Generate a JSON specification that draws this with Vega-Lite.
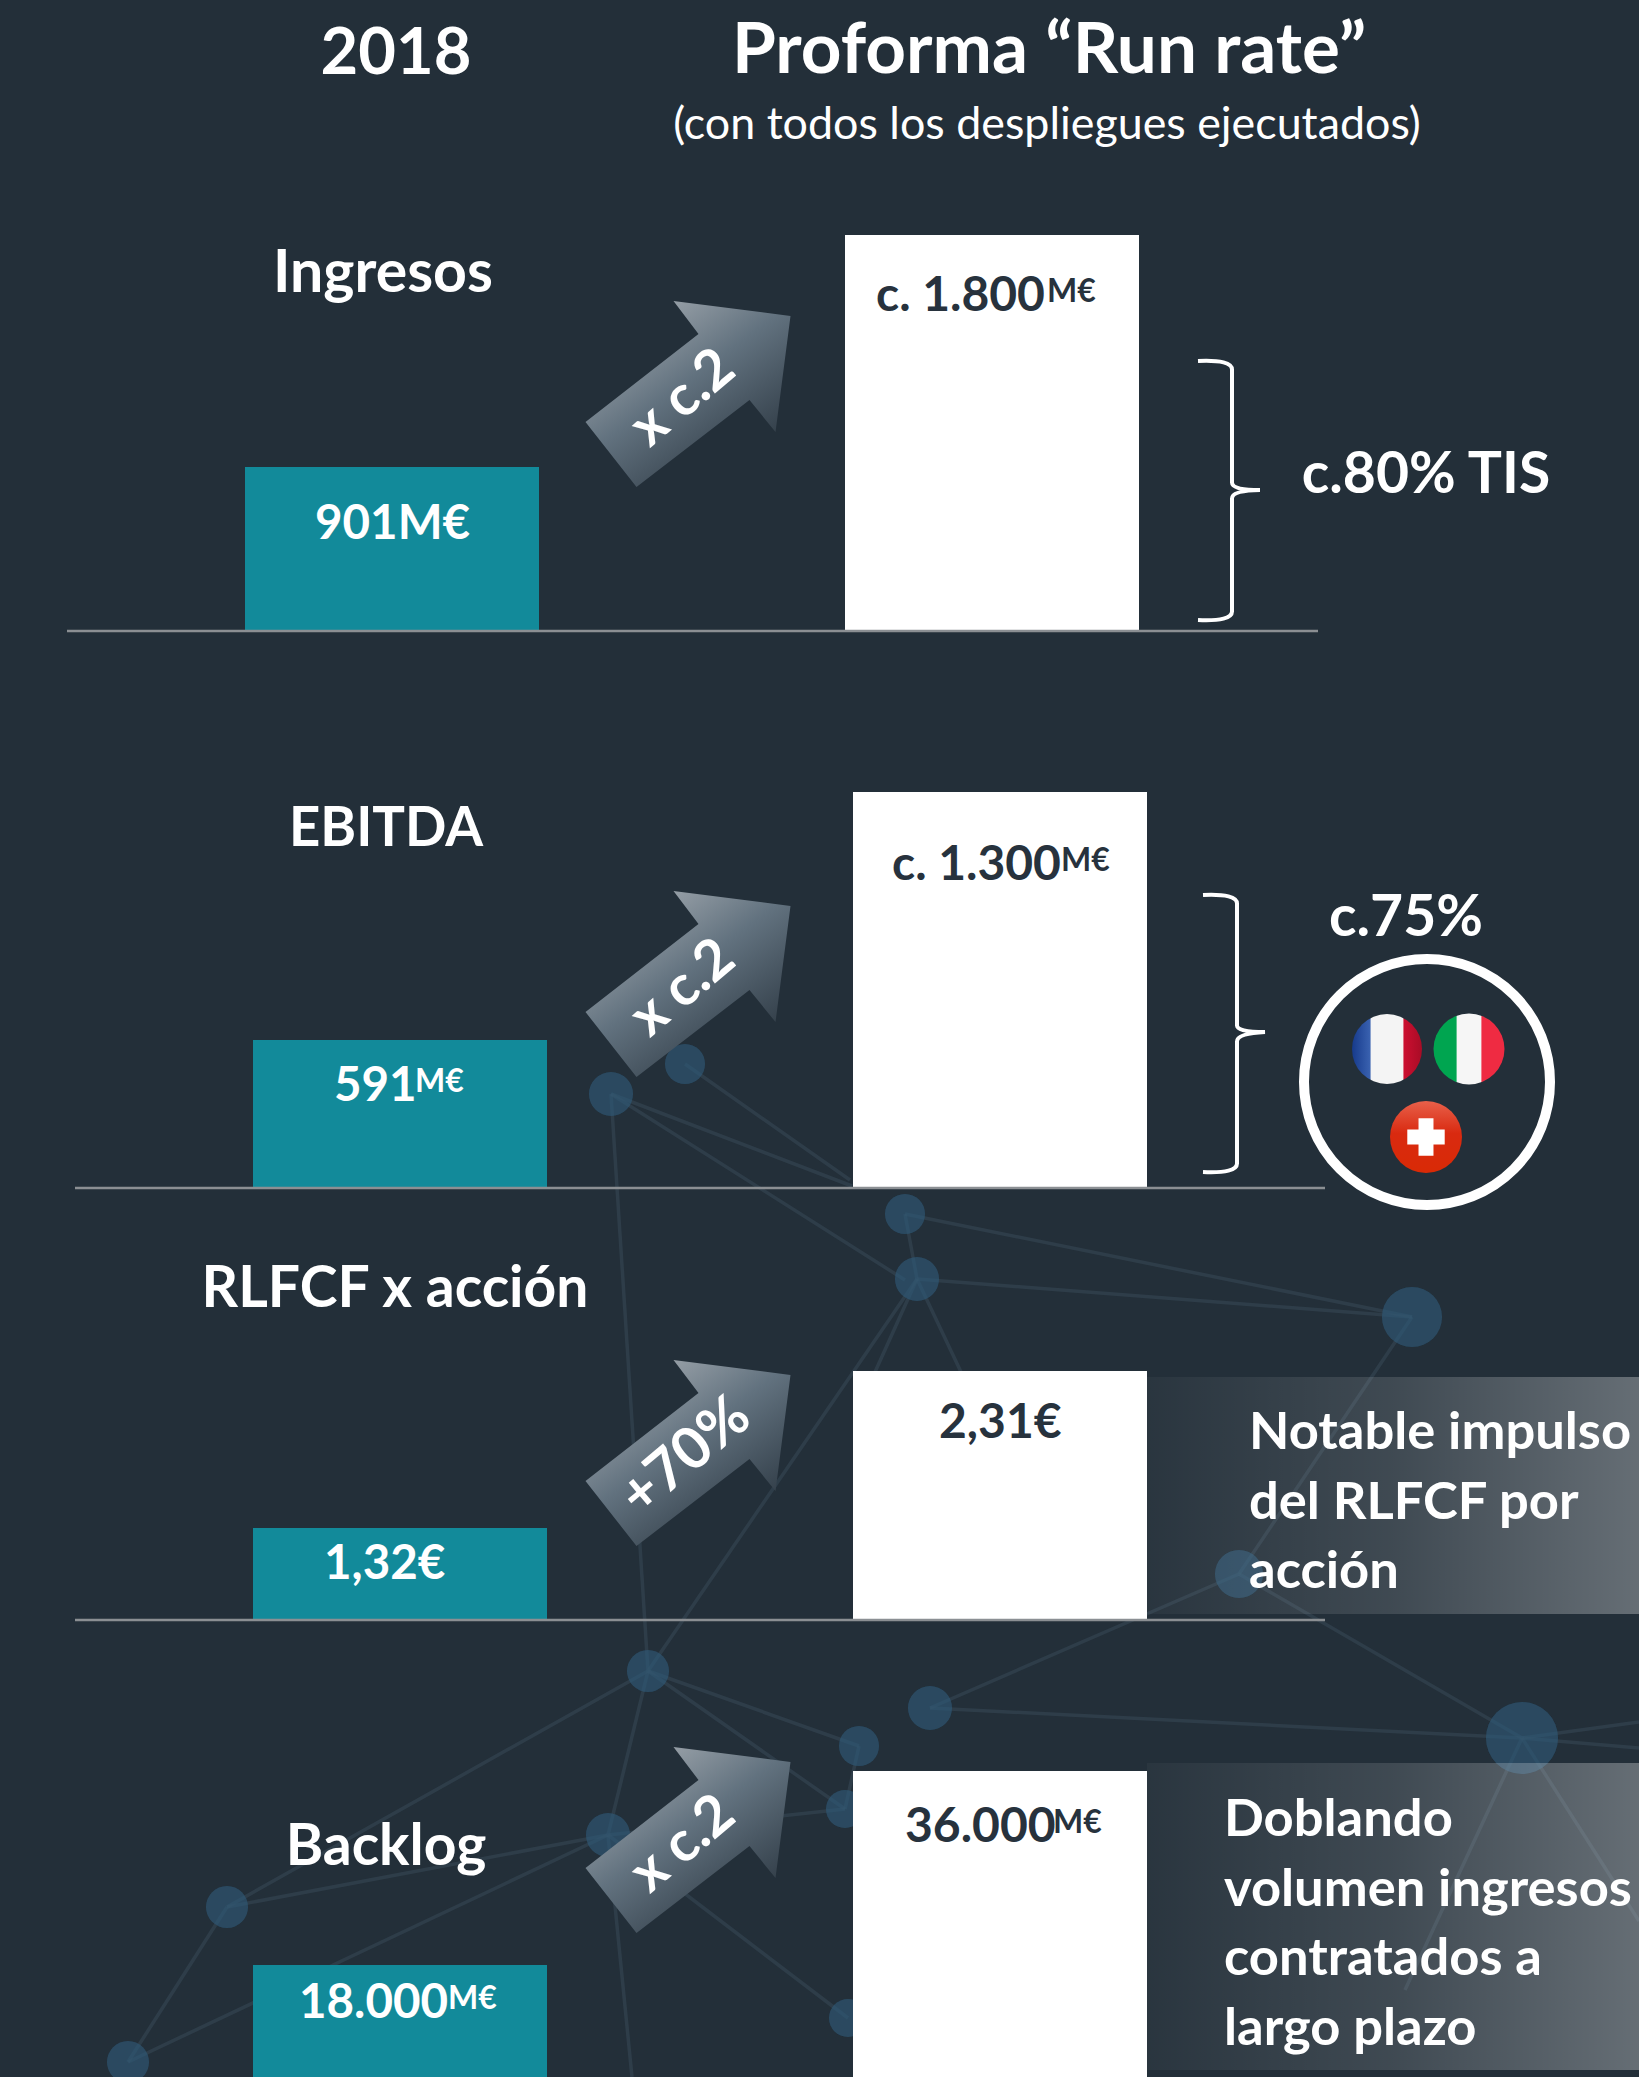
{
"$schema":"https://vega.github.io/schema/vega-lite/v6.json",
"width":1639,"height":2077,"padding":0,"autosize":{"type":"none"},
"background":"#232f39",
"config":{"view":{"stroke":null},"text":{"font":"Lato","fontWeight":"bold","baseline":"middle","align":"center","color":"#ffffff"}},
"datasets":{
"bars":[
{"metric":"Ingresos","period":"2018","value":901},{"metric":"Ingresos","period":"Proforma","value":1800},
{"metric":"EBITDA","period":"2018","value":591},{"metric":"EBITDA","period":"Proforma","value":1300},
{"metric":"RLFCF x acción","period":"2018","value":1.32},{"metric":"RLFCF x acción","period":"Proforma","value":2.31},
{"metric":"Backlog","period":"2018","value":18000},{"metric":"Backlog","period":"Proforma","value":36000}],
"edges":[
{"x":611,"y":1094,"x2":852,"y2":1186},{"x":611,"y":1094,"x2":905,"y2":1280},{"x":685,"y":1064,"x2":850,"y2":1180},{"x":611,"y":1094,"x2":648,"y2":1671},
{"x":905,"y":1214,"x2":1412,"y2":1317},{"x":917,"y":1279,"x2":1412,"y2":1317},{"x":917,"y":1279,"x2":648,"y2":1671},
{"x":905,"y":1214,"x2":917,"y2":1279},{"x":917,"y":1279,"x2":875,"y2":1372},{"x":917,"y":1279,"x2":961,"y2":1372},
{"x":1239,"y":1574,"x2":930,"y2":1708},{"x":1239,"y":1574,"x2":1522,"y2":1738},{"x":930,"y":1708,"x2":1522,"y2":1738},
{"x":648,"y":1671,"x2":859,"y2":1746},{"x":648,"y":1671,"x2":608,"y2":1835},{"x":648,"y":1671,"x2":227,"y2":1907},
{"x":227,"y":1907,"x2":608,"y2":1835},{"x":227,"y":1907,"x2":128,"y2":2062},{"x":128,"y":2062,"x2":608,"y2":1835},
{"x":608,"y":1835,"x2":848,"y2":2018},{"x":859,"y":1746,"x2":845,"y2":1809},{"x":648,"y":1671,"x2":845,"y2":1809},
{"x":845,"y":1809,"x2":608,"y2":1835},{"x":608,"y":1835,"x2":632,"y2":2077},{"x":1522,"y":1738,"x2":1639,"y2":1722},{"x":1522,"y":1738,"x2":1639,"y2":1748},
{"x":1522,"y":1738,"x2":1405,"y2":1990},{"x":1522,"y":1738,"x2":1639,"y2":1921},{"x":1412,"y":1317,"x2":1239,"y2":1574}],
"nodes":[
{"x":611,"y":1094,"w":22},{"x":685,"y":1064,"w":20},{"x":905,"y":1214,"w":20},{"x":917,"y":1279,"w":22},{"x":1412,"y":1317,"w":30},
{"x":1239,"y":1574,"w":24},{"x":648,"y":1671,"w":21},{"x":930,"y":1708,"w":22},{"x":859,"y":1746,"w":20},{"x":1522,"y":1738,"w":36},
{"x":845,"y":1809,"w":19},{"x":608,"y":1835,"w":22},{"x":227,"y":1907,"w":21},{"x":128,"y":2062,"w":21},{"x":848,"y":2018,"w":19}],
"boxes":[{"x":1147,"x2":1639,"y":1377,"y2":1614},{"x":1147,"x2":1639,"y":1763,"y2":2070}],
"arrows":[{"x":688,"y":394},{"x":688,"y":984},{"x":688,"y":1453},{"x":688,"y":1840}],
"baselines":[{"x":67,"x2":1318,"y":631},{"x":75,"x2":1325,"y":1188},{"x":75,"x2":1325,"y":1620}]
},
"resolve":{"scale":{"x":"independent","y":"independent"}},
"layer":[
{"encoding":{
 "x":{"field":"x","type":"quantitative","scale":{"domain":[0,1639],"range":[0,1639]},"axis":null},
 "y":{"field":"y","type":"quantitative","scale":{"domain":[0,2077],"range":[0,2077]},"axis":null}},
 "layer":[
 {"data":{"name":"edges"},"mark":{"type":"rule","stroke":"#3a4b59","strokeWidth":3.5,"opacity":0.5},"encoding":{"x2":{"field":"x2"},"y2":{"field":"y2"}}},
 {"data":{"name":"nodes"},"mark":{"type":"point","shape":"circle","filled":true,"fill":"#2a5775","opacity":0.2},"encoding":{"size":{"field":"w","type":"quantitative","scale":{"type":"pow","exponent":2,"domain":[0,36],"range":[0,5200]},"legend":null}}},
 {"data":{"name":"nodes"},"mark":{"type":"point","shape":"circle","filled":true,"fill":"#2d5a7c","opacity":0.3},"encoding":{"size":{"field":"w","type":"quantitative","scale":{"type":"pow","exponent":2,"domain":[0,36],"range":[0,3400]},"legend":null}}},
 {"data":{"name":"nodes"},"mark":{"type":"point","shape":"circle","filled":true,"fill":"#34607f","opacity":0.3},"encoding":{"size":{"field":"w","type":"quantitative","scale":{"type":"pow","exponent":2,"domain":[0,36],"range":[0,1800]},"legend":null}}},
 {"data":{"name":"boxes"},"mark":{"type":"rect","fill":{"gradient":"linear","x1":0,"y1":0,"x2":1,"y2":0,"stops":[{"offset":0,"color":"rgba(255,255,255,0.03)"},{"offset":0.5,"color":"rgba(255,255,255,0.13)"},{"offset":1,"color":"rgba(255,255,255,0.3)"}]}},"encoding":{"x2":{"field":"x2"},"y2":{"field":"y2"}}},
 {"data":{"name":"arrows"},"mark":{"type":"point","filled":true,"opacity":1,"size":40000,"shape":"M-0.145 -0.93L1.025 -0.78L0.875 0.38L0.615 0.06L-0.515 0.93L-1.025 0.28L0.105 -0.60Z","fill":{"gradient":"linear","x1":0,"y1":0,"x2":0.8,"y2":1,"stops":[{"offset":0,"color":"#b9bdc1"},{"offset":0.5,"color":"#62727f"},{"offset":1,"color":"#27323c"}]}}}
 ]},
{"data":{"name":"bars"},"transform":[{"filter":"datum.metric==='Ingresos'"}],"mark":{"type":"bar","width":294},"encoding":{
 "x":{"field":"period","type":"nominal","scale":{"type":"point","padding":0,"domain":["2018","Proforma"],"range":[392,992]},"axis":null},
 "y":{"field":"value","type":"quantitative","stack":null,"scale":{"zero":false,"nice":false,"domain":[269.4,1800],"range":[630,235]},"axis":null},
 "y2":{"datum":269.4},
 "color":{"field":"period","scale":{"domain":["2018","Proforma"],"range":["#128a9a","#ffffff"]},"legend":null}}},
{"data":{"name":"bars"},"transform":[{"filter":"datum.metric==='EBITDA'"}],"mark":{"type":"bar","width":294},"encoding":{
 "x":{"field":"period","type":"nominal","scale":{"type":"point","padding":0,"domain":["2018","Proforma"],"range":[400,1000]},"axis":null},
 "y":{"field":"value","type":"quantitative","stack":null,"scale":{"zero":false,"nice":false,"domain":[171,1300],"range":[1187,792]},"axis":null},
 "y2":{"datum":171},
 "color":{"field":"period","scale":{"domain":["2018","Proforma"],"range":["#128a9a","#ffffff"]},"legend":null}}},
{"data":{"name":"bars"},"transform":[{"filter":"datum.metric==='RLFCF x acción'"}],"mark":{"type":"bar","width":294},"encoding":{
 "x":{"field":"period","type":"nominal","scale":{"type":"point","padding":0,"domain":["2018","Proforma"],"range":[400,1000]},"axis":null},
 "y":{"field":"value","type":"quantitative","stack":null,"scale":{"zero":false,"nice":false,"domain":[0.746,2.31],"range":[1619,1371]},"axis":null},
 "y2":{"datum":0.746},
 "color":{"field":"period","scale":{"domain":["2018","Proforma"],"range":["#128a9a","#ffffff"]},"legend":null}}},
{"data":{"name":"bars"},"transform":[{"filter":"datum.metric==='Backlog'"}],"mark":{"type":"bar","width":294},"encoding":{
 "x":{"field":"period","type":"nominal","scale":{"type":"point","padding":0,"domain":["2018","Proforma"],"range":[400,1000]},"axis":null},
 "y":{"field":"value","type":"quantitative","stack":null,"scale":{"zero":false,"nice":false,"domain":[7608,36000],"range":[2077,1771]},"axis":null},
 "y2":{"datum":7608},
 "color":{"field":"period","scale":{"domain":["2018","Proforma"],"range":["#128a9a","#ffffff"]},"legend":null}}},
{"encoding":{
 "x":{"field":"x","type":"quantitative","scale":{"domain":[0,1639],"range":[0,1639]},"axis":null},
 "y":{"field":"y","type":"quantitative","scale":{"domain":[0,2077],"range":[0,2077]},"axis":null},
 "text":{"field":"t"}},
 "layer":[
 {"data":{"name":"baselines"},"mark":{"type":"rule","stroke":"#8b8f93","strokeWidth":2.5},"encoding":{"x2":{"field":"x2"},"text":{"value":""}}},
 {"data":{"values":[{"x":1229,"y":490.5}]},"mark":{"type":"point","filled":false,"opacity":1,"stroke":"#ffffff","strokeWidth":4,"size":40000,"shape":"M-0.31 -1.295Q0.03 -1.31 0.03 -1.21L0.03 -0.08Q0.03 -0.005 0.31 -0.005Q0.03 0 0.03 0.08L0.03 1.21Q0.03 1.31 -0.31 1.295"},"encoding":{"text":{"value":""}}},
 {"data":{"values":[{"x":1234,"y":1033.5}]},"mark":{"type":"point","filled":false,"opacity":1,"stroke":"#ffffff","strokeWidth":4,"size":40000,"shape":"M-0.31 -1.385Q0.03 -1.40 0.03 -1.30L0.03 -0.08Q0.03 -0.015 0.31 -0.015Q0.03 0 0.03 0.08L0.03 1.30Q0.03 1.40 -0.31 1.385"},"encoding":{"text":{"value":""}}},
 {"data":{"values":[{"x":1427,"y":1082}]},"mark":{"type":"point","shape":"circle","filled":false,"opacity":1,"stroke":"#ffffff","strokeWidth":10,"size":60516},"encoding":{"text":{"value":""}}},
 {"data":{"values":[{"x":1387,"y":1049}]},"mark":{"type":"point","shape":"circle","filled":true,"opacity":1,"size":4900,"fill":{"gradient":"linear","x1":0,"y1":0,"x2":1,"y2":0,"stops":[{"offset":0,"color":"#163a8c"},{"offset":0.26,"color":"#3a62b0"},{"offset":0.27,"color":"#f4f4f4"},{"offset":0.73,"color":"#f4f4f4"},{"offset":0.74,"color":"#cc0f30"},{"offset":1,"color":"#a80c26"}]}},"encoding":{"text":{"value":""}}},
 {"data":{"values":[{"x":1469,"y":1049}]},"mark":{"type":"point","shape":"circle","filled":true,"opacity":1,"size":5041,"fill":{"gradient":"linear","x1":0,"y1":0,"x2":1,"y2":0,"stops":[{"offset":0,"color":"#00a550"},{"offset":0.32,"color":"#00a550"},{"offset":0.33,"color":"#f6f6f6"},{"offset":0.67,"color":"#f6f6f6"},{"offset":0.68,"color":"#ef2b42"},{"offset":1,"color":"#ef2b42"}]}},"encoding":{"text":{"value":""}}},
 {"data":{"values":[{"x":1426,"y":1137}]},"mark":{"type":"point","shape":"circle","filled":true,"opacity":1,"size":5184,"fill":{"gradient":"linear","x1":0,"y1":0,"x2":0,"y2":1,"stops":[{"offset":0,"color":"#e8604a"},{"offset":0.45,"color":"#d92a10"},{"offset":1,"color":"#d92a06"}]}},"encoding":{"text":{"value":""}}},
 {"data":{"values":[{"x":1426,"y":1137}]},"mark":{"type":"point","shape":"cross","filled":true,"opacity":1,"fill":"#ffffff","size":1400},"encoding":{"text":{"value":""}}},
 {"data":{"values":[{"t":"2018","x":396,"y":54}]},"mark":{"type":"text","fontSize":65}},
 {"data":{"values":[{"t":"Proforma “Run rate”","x":1049,"y":52}]},"mark":{"type":"text","fontSize":71}},
 {"data":{"values":[{"t":"(con todos los despliegues ejecutados)","x":1047,"y":126}]},"mark":{"type":"text","fontSize":44.8,"fontWeight":"normal"}},
 {"data":{"values":[{"t":"Ingresos","x":383,"y":274}]},"mark":{"type":"text","fontSize":59}},
 {"data":{"values":[{"t":"RLFCF x acción","x":395,"y":1290},{"t":"Backlog","x":386,"y":1848},{"t":"c.80% TIS","x":1426,"y":476},{"t":"c.75%","x":1406,"y":919}]},"mark":{"type":"text","fontSize":57}},
 {"data":{"values":[{"t":"EBITDA","x":386,"y":830}]},"mark":{"type":"text","fontSize":54.5}},
 {"data":{"values":[{"t":"Notable impulso","x":1249,"y":1433},{"t":"del RLFCF por","x":1249,"y":1503},{"t":"acción","x":1249,"y":1572},{"t":"Doblando","x":1224,"y":1820},{"t":"volumen ingresos","x":1224,"y":1890},{"t":"contratados a","x":1224,"y":1959},{"t":"largo plazo","x":1224,"y":2029}]},"mark":{"type":"text","fontSize":52.5,"align":"left"}},
 {"data":{"values":[{"t":"901M€","x":315,"y":525},{"t":"591","x":334,"y":1087},{"t":"1,32€","x":324,"y":1565},{"t":"18.000","x":299,"y":2004}]},"mark":{"type":"text","fontSize":47.5,"align":"left"}},
 {"data":{"values":[{"t":"c. 1.800","x":876,"y":297},{"t":"c. 1.300","x":892,"y":866},{"t":"2,31€","x":939,"y":1424},{"t":"36.000","x":905,"y":1828}]},"mark":{"type":"text","fontSize":48,"align":"left","color":"#27323d"}},
 {"data":{"values":[{"t":"M€","x":415,"y":1082},{"t":"M€","x":448,"y":1999}]},"mark":{"type":"text","fontSize":32,"align":"left"}},
 {"data":{"values":[{"t":"M€","x":1047,"y":292},{"t":"M€","x":1061,"y":861},{"t":"M€","x":1053,"y":1823}]},"mark":{"type":"text","fontSize":32,"align":"left","color":"#27323d"}},
 {"data":{"values":[{"t":"x c.2","x":683,"y":398},{"t":"x c.2","x":683,"y":988},{"t":"x c.2","x":683,"y":1844}]},"mark":{"type":"text","fontSize":56,"angle":320}},
 {"data":{"values":[{"t":"+70%","x":686,"y":1457}]},"mark":{"type":"text","fontSize":58,"angle":320}}
 ]}
]}
